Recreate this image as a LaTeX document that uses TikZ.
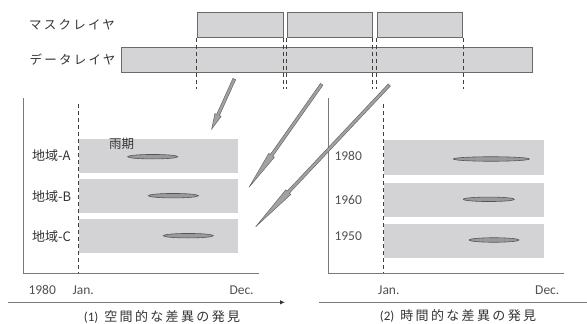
\documentclass[tikz,border=0pt]{standalone}
\usepackage{fontspec}
\setmainfont{Carlito}
\newfontfamily\jp[LetterSpace=18]{Noto Sans CJK JP}
\newfontfamily\jpn{Noto Sans CJK JP}
\usetikzlibrary{calc,shapes.geometric,arrows.meta}
\definecolor{boxfill}{HTML}{D4D4D6}
\definecolor{boxline}{HTML}{6A6A6A}
\definecolor{bandfill}{HTML}{D3D3D5}
\definecolor{rainfill}{HTML}{9A9A9A}
\definecolor{rainline}{HTML}{555555}
\definecolor{axisgray}{HTML}{7A7A7A}
\definecolor{txt}{HTML}{333333}
\definecolor{numtxt}{HTML}{505050}
\definecolor{arrfill}{HTML}{A2A2A2}
\definecolor{arrline}{HTML}{666666}
\tikzset{
  layerbox/.style={draw=boxline,fill=boxfill,line width=1pt,inner sep=0pt,anchor=north west},
  band/.style={fill=bandfill,draw=none,inner sep=0pt,anchor=north west},
  rain/.style={ellipse,draw=rainline,fill=rainfill,line width=0.6pt,inner sep=0pt,minimum height=4.5pt},
  dashline/.style={draw=black!75,line width=0.7pt,dash pattern=on 4pt off 3pt},
  axisline/.style={draw=axisgray,line width=1pt},
  fatarrow/.style={draw=arrline,fill=arrfill,line width=0.5pt,line join=miter},
  layerlabel/.style={font=\jp\fontsize{12.5}{14}\selectfont,text=txt,inner sep=0pt},
  reglabel/.style={font=\jpn\fontsize{13}{15}\selectfont,text=txt,inner sep=0pt,anchor=west},
  numlabel/.style={font=\fontsize{13.5}{15}\selectfont,text=numtxt,inner sep=0pt,anchor=west},
  caption/.style={font=\fontsize{13}{14}\selectfont,text=txt,inner sep=0pt},
}
\newcommand{\fatarr}[3]{%
  \path (#1) -- (#2) coordinate[pos=#3] (fb);
  \draw[fatarrow] ($(#1)!1.5pt!90:(#2)$) -- ($(fb)!1.5pt!90:(#2)$) -- ($(fb)!3.4pt!90:(#2)$) -- (#2)
    -- ($(fb)!3.4pt!-90:(#2)$) -- ($(fb)!1.5pt!-90:(#2)$) -- ($(#1)!1.5pt!-90:(#2)$) -- cycle;}
\begin{document}
\begin{tikzpicture}[x=1pt,y=-1pt]
\useasboundingbox (0,0) rectangle (587,324);
% top layers
\node[layerlabel] (masklbl) at (72,25) {マスクレイヤ};
\node[layerlabel] (datalbl) at (72.5,60) {データレイヤ};
\node[layerbox,minimum width=410.7pt,minimum height=25pt] (data) at (121,47.3) {};
\node[layerbox,minimum width=86pt,minimum height=24.4pt] (mask1) at (196.7,12.3) {};
\node[layerbox,minimum width=85.2pt,minimum height=24.4pt] (mask2) at (286.5,12.3) {};
\node[layerbox,minimum width=85.8pt,minimum height=24.4pt] (mask3) at (376.5,12.3) {};
\foreach \m in {mask1,mask2,mask3}{
  \draw[dashline] (\m.south west) -- ($(\m.south west)+(0,51)$);
  \draw[dashline] (\m.south east) -- ($(\m.south east)+(0,51)$);
}
% left panel
\coordinate (LO) at (23,273);
\draw[axisline] (23,98) -- (LO) -- (259,273);
\node[band,minimum width=159pt,minimum height=33.7pt] (bandA) at (79,139) {};
\node[band,minimum width=159pt,minimum height=33.7pt] (bandB) at (79,179) {};
\node[band,minimum width=159pt,minimum height=33.7pt] (bandC) at (79,219) {};
\draw[dashline] (78,104) -- (78,273);
\node[rain,minimum width=50pt] (rA) at (152.7,156.7) {};
\node[rain,minimum width=50pt] (rB) at (173.3,195.7) {};
\node[rain,minimum width=50pt] (rC) at (188.3,235.7) {};
\node[reglabel] (lA) at (32,156) {地域-A};
\node[reglabel] (lB) at (32,197) {地域-B};
\node[reglabel] (lC) at (32,236.5) {地域-C};
\node[reglabel,font=\jpn\fontsize{12.5}{14}\selectfont] (uki) at (109,144) {雨期};
\node[numlabel] (y1980L) at (28.3,290) {1980};
\node[numlabel] (janL) at (72.3,290) {Jan.};
\node[numlabel] (decL) at (229.3,290) {Dec.};
\coordinate (arrL0) at (8,302.3);
\coordinate (arrL1) at (285,302.3);
\draw[draw=axisgray,line width=1pt,-{Latex[length=5pt,width=4.5pt,color=black!80]}] (arrL0) -- (arrL1);
\node[caption] (cap1) at (162,316.8) {(1)\hspace{6pt}{\jp 空間的な差異の発見}};
% right panel
\coordinate (RO) at (328.7,273);
\draw[axisline] (328.7,98) -- (RO) -- (564,273);
\node[band,minimum width=160pt,minimum height=34.3pt] (b1980) at (384,140) {};
\node[band,minimum width=160pt,minimum height=34pt] (b1960) at (384,182.7) {};
\node[band,minimum width=160pt,minimum height=34pt] (b1950) at (384,223.3) {};
\draw[dashline] (383.3,104) -- (383.3,273);
\node[rain,minimum width=76pt] (r80) at (491.3,159) {};
\node[rain,minimum width=51pt] (r60) at (488.8,199.3) {};
\node[rain,minimum width=50pt] (r50) at (494,240) {};
\node[numlabel] (l80) at (334.3,155.5) {1980};
\node[numlabel] (l60) at (334.3,200.3) {1960};
\node[numlabel] (l50) at (334.3,236.5) {1950};
\node[numlabel] (janR) at (378,290) {Jan.};
\node[numlabel] (decR) at (535,290) {Dec.};
\coordinate (lnR0) at (319,302.7);
\coordinate (lnR1) at (587,302.7);
\draw[draw=axisgray,line width=1pt] (lnR0) -- (lnR1);
\node[caption] (cap2) at (458,315.8) {(2)\hspace{6pt}{\jp 時間的な差異の発見}};
% fat arrows
\coordinate (a1s) at (234.3,79);   \coordinate (a1t) at (211.7,129);
\coordinate (a2s) at (321.7,84.3); \coordinate (a2t) at (249,187.3);
\coordinate (a3s) at (389.3,85);   \coordinate (a3t) at (255.7,226.7);
\fatarr{a1s}{a1t}{0.72}
\fatarr{a2s}{a2t}{0.69}
\fatarr{a3s}{a3t}{0.756}
\end{tikzpicture}
\end{document}
